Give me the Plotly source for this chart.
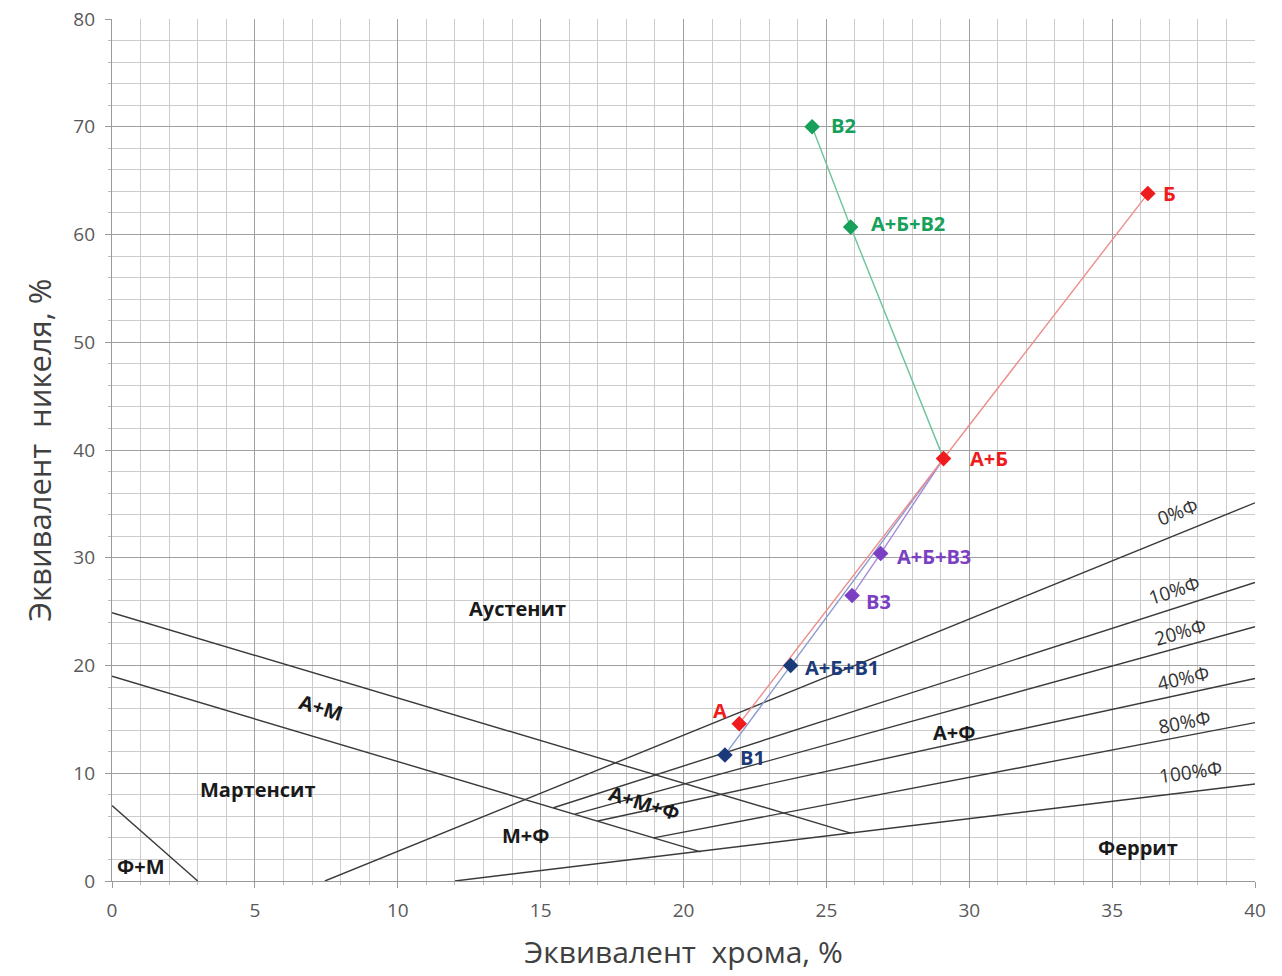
import plotly.graph_objects as go

# ---- alloy compositions (chromium equivalent, nickel equivalent) ----
red_names = ["А", "А+Б", "Б"]
red_cr = [21.95, 29.1, 36.25]
red_ni = [14.6, 39.2, 63.8]

navy_names = ["В1", "А+Б+В1"]
navy_cr = [21.45, 23.75]
navy_ni = [11.7, 20.0]

green_names = ["В2", "А+Б+В2"]
green_cr = [24.5, 25.85]
green_ni = [70.0, 60.7]

purple_names = ["В3", "А+Б+В3"]
purple_cr = [25.9, 26.9]
purple_ni = [26.5, 30.4]

# ---- phase boundary lines of the Schaeffler diagram ----
fm_cr = [0, 3.0]
fm_ni = [7.0, 0]
am_upper_cr = [0, 25.85]
am_upper_ni = [24.9, 4.45]
am_lower_cr = [0, 20.6]
am_lower_ni = [19.0, 2.7]
ferrite_names = ["0%Ф", "10%Ф", "20%Ф", "40%Ф", "80%Ф", "100%Ф"]
ferrite_cr = [[7.45, 40], [15.45, 40], [16.2, 40], [17.0, 40], [18.95, 40], [12.0, 40]]
ferrite_ni = [[0, 35.1], [6.8, 27.7], [6.2, 23.6], [5.57, 18.8], [4.0, 14.7], [0, 9.0]]

# ---- region names ----
region_names = ["Аустенит", "А+М", "Мартенсит", "Ф+М", "М+Ф", "А+М+Ф", "А+Ф", "Феррит"]
region_cr = [14.2, 7.3, 5.1, 1.0, 14.5, 18.65, 29.45, 35.9]
region_ni = [25.3, 16.1, 8.45, 1.3, 4.2, 7.2, 13.8, 3.1]
region_angle = [0, 17, 0, 0, 0, 17, 0, 0]

# ferrite percentage captions
ferrite_lab_cr = [37.3, 37.2, 37.4, 37.5, 37.55, 37.75]
ferrite_lab_ni = [34.2, 27.0, 23.1, 18.8, 14.8, 10.1]
ferrite_lab_angle = [-21, -18, -16, -13, -11, -8]

FONT = "Open Sans"
fig = go.Figure()

line_style = dict(color="#3a3a3a", width=1.4)
for xs, ys in [(fm_cr, fm_ni), (am_upper_cr, am_upper_ni), (am_lower_cr, am_lower_ni)]:
    fig.add_trace(go.Scatter(x=xs, y=ys, mode="lines", line=line_style,
                             hoverinfo="skip", showlegend=False))
for xs, ys in zip(ferrite_cr, ferrite_ni):
    fig.add_trace(go.Scatter(x=xs, y=ys, mode="lines", line=line_style,
                             hoverinfo="skip", showlegend=False))

series = [
    # (names, cr, ni, line colour, marker colour)
    (green_names, green_cr, green_ni, "#6cc49a", "#16a05a"),
    (purple_names, purple_cr, purple_ni, "#a58bd8", "#7b3fc4"),
    (navy_names, navy_cr, navy_ni, "#8a9bd0", "#1b3a7a"),
    (red_names, red_cr, red_ni, "#ec8d8d", "#ee1c1c"),
]

# connecting paths: each additive series runs through the А+Б mix point
ab_cr, ab_ni = red_cr[1], red_ni[1]
for names, cr, ni, lc, mc in series:
    if names is red_names:
        px, py = cr, ni
    else:
        px, py = cr + [ab_cr], ni + [ab_ni]
    fig.add_trace(go.Scatter(x=px, y=py, mode="lines", line=dict(color=lc, width=1.4),
                             hoverinfo="skip", showlegend=False))
for names, cr, ni, lc, mc in series:
    fig.add_trace(go.Scatter(x=cr, y=ni, mode="markers",
                             marker=dict(symbol="diamond", size=12, color=mc),
                             text=names, showlegend=False))

# point labels
offsets = {"А": (-19, 13, "center"), "А+Б": (24, 0, "left"), "Б": (13, 0, "left"),
           "В1": (13, -3, "left"), "А+Б+В1": (12, -2, "left"),
           "В2": (17, 1, "left"), "А+Б+В2": (18, 3, "left"),
           "В3": (12, -6, "left"), "А+Б+В3": (14, -3, "left")}
for names, cr, ni, lc, mc in series:
    for n, x, y in zip(names, cr, ni):
        dx, dy, anc = offsets[n]
        fig.add_annotation(x=x, y=y, text=f"<b>{n}</b>", showarrow=False,
                           xanchor=anc, yanchor="middle", xshift=dx, yshift=dy,
                           font=dict(family=FONT, size=20, color=mc))

for n, x, y, a in zip(region_names, region_cr, region_ni, region_angle):
    fig.add_annotation(x=x, y=y, text=f"<b>{n}</b>", showarrow=False, textangle=a,
                       font=dict(family=FONT, size=20, color="#1a1a1a"))

for n, x, y, a in zip(ferrite_names, ferrite_lab_cr, ferrite_lab_ni, ferrite_lab_angle):
    fig.add_annotation(x=x, y=y, text=n, showarrow=False, textangle=a,
                       font=dict(family=FONT, size=19, color="#333333"))

axis_common = dict(
    showline=True, linecolor="#9a9a9a", linewidth=1.3,
    gridcolor="#a0a0a0", gridwidth=1.3,
    ticks="outside", ticklen=6, tickcolor="#9a9a9a",
    tickfont=dict(family=FONT, size=19, color="#595959"),
    zeroline=False, automargin=False,
)
fig.update_xaxes(
    range=[0, 40], dtick=5, tick0=0,
    minor=dict(dtick=1, showgrid=True, gridcolor="#cccccc", gridwidth=1.1,
               ticks="outside", ticklen=3, tickcolor="#bcbcbc"),
    title=dict(text="Эквивалент  хрома, %", standoff=20,
               font=dict(family=FONT, size=30, color="#404040")),
    ticklabelstandoff=6,
    **axis_common,
)
fig.update_yaxes(
    range=[0, 80], dtick=10, tick0=0,
    minor=dict(dtick=2, showgrid=True, gridcolor="#cccccc", gridwidth=1.1,
               ticks="outside", ticklen=3, tickcolor="#bcbcbc"),
    title=dict(text="Эквивалент  никеля, %", standoff=12,
               font=dict(family=FONT, size=31, color="#404040")),
    ticklabelstandoff=6,
    **axis_common,
)

fig.update_layout(
    width=1282, height=976,
    margin=dict(l=112, r=27, t=19, b=95),
    paper_bgcolor="white", plot_bgcolor="white",
    showlegend=False,
)

fig.write_html("out.html")
